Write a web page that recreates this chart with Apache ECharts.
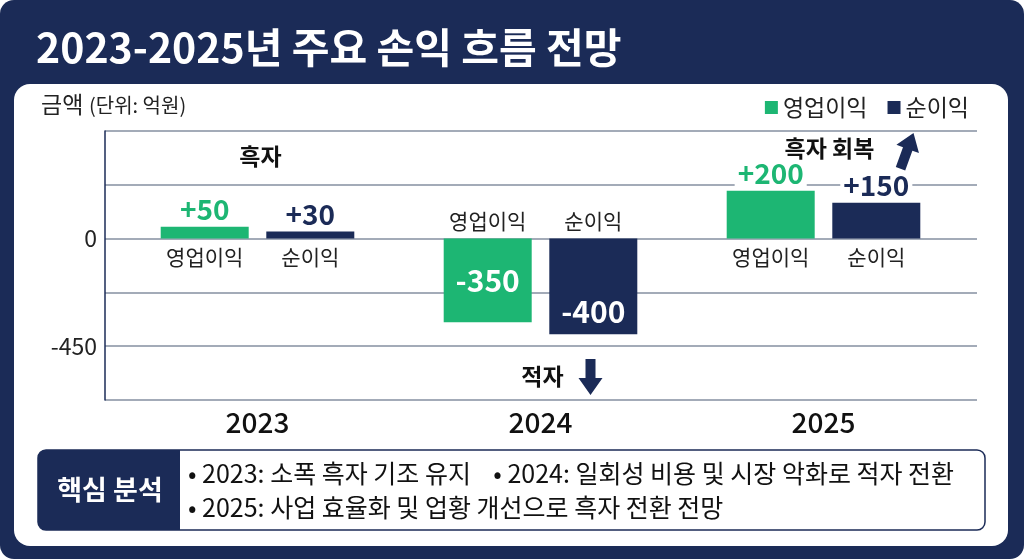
<!DOCTYPE html>
<html><head><meta charset="utf-8">
<script src="https://cdn.jsdelivr.net/npm/echarts@6/dist/echarts.min.js"></script>
<style>html,body{margin:0;padding:0;background:#fff;}#c{width:1024px;height:559px;}</style>
</head><body><div id="c"></div>
<script>
const years = ['2023', '2024', '2025'];
const seriesNames = ['영업이익', '순이익'];
const operatingProfit = [50, -350, 200];
const netProfit = [30, -400, 150];
const yTickLabels = [0, -450];
const annotations = ['흑자', '적자', '흑자 회복'];
const titleText = '2023-2025년 주요 손익 흐름 전망';
const unitMain = '금액';
const unitSub = '(단위: 억원)';
const insightTitle = '핵심 분석';
const insightLines = [
  '• 2023: 소폭 흑자 기조 유지    • 2024: 일회성 비용 및 시장 악화로 적자 전환',
  '• 2025: 사업 효율화 및 업황 개선으로 흑자 전환 전망'
];

const NAVY = '#1b2b57';
const GREEN = '#1db673';
const FONT = '"Noto Sans CJK KR", "Noto Sans", sans-serif';

function fmt(v){ return (v > 0 ? '+' : '') + v; }
function makeItems(vals, color){
  return vals.map(v => {
    if (v >= 0) {
      return {value: v, label: {show: true, position: 'top', distance: 2, color: color, fontSize: 28, fontWeight: 'bold', backgroundColor: '#fff', padding: [0, 3], lineHeight: 30}};
    }
    return {value: v, label: {show: true, position: (v < -380 ? 'insideBottom' : 'inside'), distance: 8, color: '#fff', fontSize: 30, fontWeight: 'bold'}};
  });
}

const chart = echarts.init(document.getElementById('c'));
const axisRange = {min: -675, max: 450, interval: 225};
chart.setOption({
  textStyle: {fontFamily: FONT},
  animation: false,
  legend: {
    right: 50, top: 91, icon: 'rect', itemWidth: 13, itemHeight: 13, itemGap: 20, itemStyle: {},
    textStyle: {fontSize: 23, color: '#222', fontFamily: FONT},
    data: seriesNames
  },
  grid: [
    {left: 105, right: 47, top: 131, bottom: 159},
    {left: 116, right: 59, top: 131, bottom: 159}
  ],
  xAxis: [
    {type: 'value', gridIndex: 0, show: false, min: 0, max: 1},
    {type: 'category', gridIndex: 1, data: years, axisLine: {show: false}, axisTick: {show: false},
     axisLabel: {margin: 8, fontSize: 28, color: '#111', fontWeight: 500, fontFamily: FONT}}
  ],
  yAxis: [
    Object.assign({type: 'value', gridIndex: 0,
      axisLine: {show: true, lineStyle: {color: NAVY, width: 1.5}},
      axisTick: {show: false},
      splitLine: {show: true, lineStyle: {color: '#858fa1', width: 1.5}},
      axisLabel: {fontSize: 23, color: '#222', margin: 8, fontFamily: FONT,
        formatter: v => yTickLabels.includes(v) ? String(v) : ''}}, axisRange),
    Object.assign({type: 'value', gridIndex: 1, show: false, splitLine: {show: false}}, axisRange)
  ],
  series: [
    {name: seriesNames[0], type: 'bar', xAxisIndex: 1, yAxisIndex: 1, barWidth: 88, barGap: '20%',
     itemStyle: {color: GREEN}, data: makeItems(operatingProfit, GREEN),
     label: {formatter: p => fmt(p.value), fontFamily: FONT}},
    {name: seriesNames[1], type: 'bar', xAxisIndex: 1, yAxisIndex: 1, barWidth: 88, barGap: '20%',
     itemStyle: {color: NAVY}, data: makeItems(netProfit, NAVY),
     label: {formatter: p => fmt(p.value), fontFamily: FONT}}
  ]
});

function px(cat, val){ return chart.convertToPixel({xAxisIndex: 1, yAxisIndex: 1}, [cat, val]); }
function arrow(tipX, tipY, len, rot){
  return {type: 'polygon', x: tipX, y: tipY, rotation: rot, z: 20,
    shape: {points: [[0,0],[12,17],[5,17],[5,len],[-5,len],[-5,17],[-12,17]]},
    style: {fill: NAVY}};
}
function txt(x, y, text, font, fill, align){
  return {type: 'text', x: x, y: y, z: 15, style: {text: text, fill: fill || '#111', font: font, textAlign: align || 'center', textVerticalAlign: 'middle'}};
}

const zero = px(years[0], 0)[1];
const barOff = 52.8;
const elements = [
  {type: 'rect', z: -10, shape: {x: 0, y: 0, width: 1024, height: 559, r: 14}, style: {fill: NAVY}},
  {type: 'rect', z: -9, shape: {x: 14, y: 84, width: 994, height: 462, r: 16}, style: {fill: '#fff'}},
  txt(36, 47, titleText, 'bold 41px ' + FONT, '#fff', 'left'),
  txt(41, 104, unitMain, '23px ' + FONT, '#222', 'left'),
  txt(89, 105, unitSub, '20px ' + FONT, '#222', 'left'),
  // insight box
  {type: 'rect', shape: {x: 38, y: 450, width: 947, height: 80, r: 8}, style: {fill: '#fff', stroke: NAVY, lineWidth: 1.5}},
  {type: 'rect', shape: {x: 38, y: 450, width: 142, height: 80, r: [8, 0, 0, 8]}, style: {fill: NAVY}},
  txt(110, 490, insightTitle, 'bold 27px ' + FONT, '#fff'),
  txt(188, 473, insightLines[0], '25px ' + FONT, '#111', 'left'),
  txt(188, 507, insightLines[1], '25px ' + FONT, '#111', 'left')
];

// sub labels under / above bars
years.forEach((y, i) => {
  const cx = px(y, 0)[0];
  [[operatingProfit[i], -barOff, seriesNames[0]], [netProfit[i], barOff, seriesNames[1]]].forEach(([v, off, name]) => {
    elements.push(txt(cx + off, v >= 0 ? zero + 18 : zero - 18, name, '21px ' + FONT, '#222'));
  });
});

// annotations
const c0 = px(years[0], 0)[0], c1 = px(years[1], 0)[0], c2 = px(years[2], 0)[0];
elements.push(txt(c0 + 3, 156, annotations[0], 'bold 23px ' + FONT));
elements.push(txt(c1 + 2, 376, annotations[1], 'bold 23px ' + FONT));
elements.push(txt(c2 + 6, 148, annotations[2], 'bold 23px ' + FONT));
elements.push(arrow(c1 + 50, 395, 36, Math.PI));
elements.push(arrow(c2 + 90, 133, 38, -20 * Math.PI / 180));

chart.setOption({graphic: {elements: elements}});
</script></body></html>
